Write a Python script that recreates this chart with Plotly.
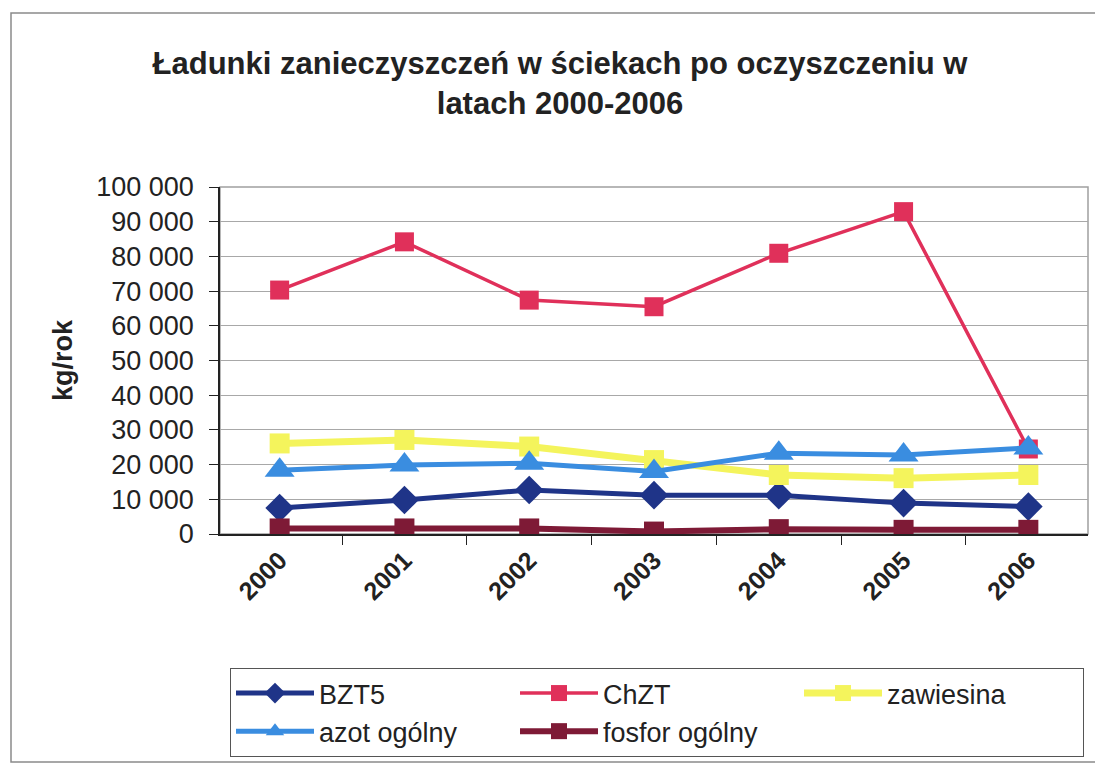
import plotly.graph_objects as go

years = ["2000", "2001", "2002", "2003", "2004", "2005", "2006"]
bzt5 = [7500, 9800, 12700, 11200, 11200, 8900, 7900]
chzt = [70300, 84200, 67400, 65500, 80900, 92900, 24500]
zawiesina = [26100, 27100, 25200, 21300, 17000, 16100, 17000]
azot = [18400, 19900, 20400, 18000, 23300, 22800, 24800]
fosfor = [1600, 1600, 1600, 700, 1400, 1200, 1200]

ytick_vals = [0, 10000, 20000, 30000, 40000, 50000, 60000, 70000, 80000, 90000, 100000]
ytick_text = ["0", "10 000", "20 000", "30 000", "40 000", "50 000", "60 000",
              "70 000", "80 000", "90 000", "100 000"]

FONT = "Liberation Sans, Arial, sans-serif"

series = [
    ("BZT5", bzt5, "#1f3488", "diamond", 22, 5),
    ("ChZT", chzt, "#e0305a", "square", 19, 3.5),
    ("zawiesina", zawiesina, "#f4f45c", "square", 20, 7),
    ("azot ogólny", azot, "#3a8de0", "triangle-up", 26, 5),
    ("fosfor ogólny", fosfor, "#7e1a36", "square", 20, 6),
]

fig = go.Figure()
for name, vals, color, sym, size, lw in series:
    fig.add_trace(go.Scatter(
        x=years, y=vals, name=name, mode="lines+markers",
        line=dict(color=color, width=lw),
        marker=dict(symbol=sym, size=size, color=color, line=dict(width=0)),
    ))

W, H = 1095, 767
L, R, T, B = 220, 7, 187, 233
pw, ph = W - L - R, H - T - B

def px(x):
    return (x - L) / pw

def py(y):
    return (H - B - y) / ph

ITEMW = 78
TEXTGAP = ITEMW + 10

fig.update_layout(
    width=W, height=H,
    margin=dict(l=L, r=R, t=T, b=B, autoexpand=False),
    paper_bgcolor="white", plot_bgcolor="white",
    font=dict(family=FONT, color="#222222"),
    title=dict(
        text="Ładunki zanieczyszczeń w ściekach po oczyszczeniu w<br>latach 2000-2006",
        x=560 / W, xanchor="center", xref="container",
        y=1 - 74 / H, yanchor="middle", yref="container",
        font=dict(size=31, family=FONT, color="#222222", weight="bold"),
    ),
    xaxis=dict(
        type="category", showgrid=False, showline=True, linecolor="#222222",
        linewidth=1.5, ticks="outside", tickson="boundaries", ticklen=9,
        tickcolor="#222222", tickangle=-45, automargin=False,
        tickfont=dict(size=25, family=FONT, color="#222222", weight="bold"),
        zeroline=False,
    ),
    yaxis=dict(
        range=[0, 100000], tickvals=ytick_vals, ticktext=ytick_text,
        showgrid=True, gridcolor="#a8a8a8", gridwidth=1,
        showline=True, linecolor="#222222", linewidth=1.5,
        ticks="outside", ticklen=9, tickcolor="#222222",
        ticklabelstandoff=10, automargin=False,
        tickfont=dict(size=27, family=FONT, color="#222222"),
        zeroline=False,
        title=dict(text="kg/rok", standoff=16,
                   font=dict(size=27, family=FONT, color="#222222", weight="bold")),
    ),
    legend=dict(
        orientation="h", xref="container", yref="container",
        x=230 / W, xanchor="left", y=1 - 668 / H, yanchor="top",
        bordercolor="#555555", borderwidth=1, bgcolor="white",
        font=dict(size=27, family=FONT, color="#222222"),
        entrywidth=279 - TEXTGAP, entrywidthmode="pixels",
        itemwidth=ITEMW, traceorder="normal",
    ),
    showlegend=True,
    shapes=[
        dict(type="rect", xref="paper", yref="paper", x0=0, x1=1, y0=0, y1=1,
             line=dict(color="#a0a0a0", width=1.5), layer="below"),
        dict(type="rect", xref="paper", yref="paper",
             x0=px(11), x1=px(1100), y0=py(762), y1=py(13),
             line=dict(color="#8a8a8a", width=1.5), layer="below"),
    ],
)

fig.write_html(
    "out.html",
    config={"displayModeBar": False},
    post_script="document.body.style.margin='0';document.body.style.padding='0';",
)
